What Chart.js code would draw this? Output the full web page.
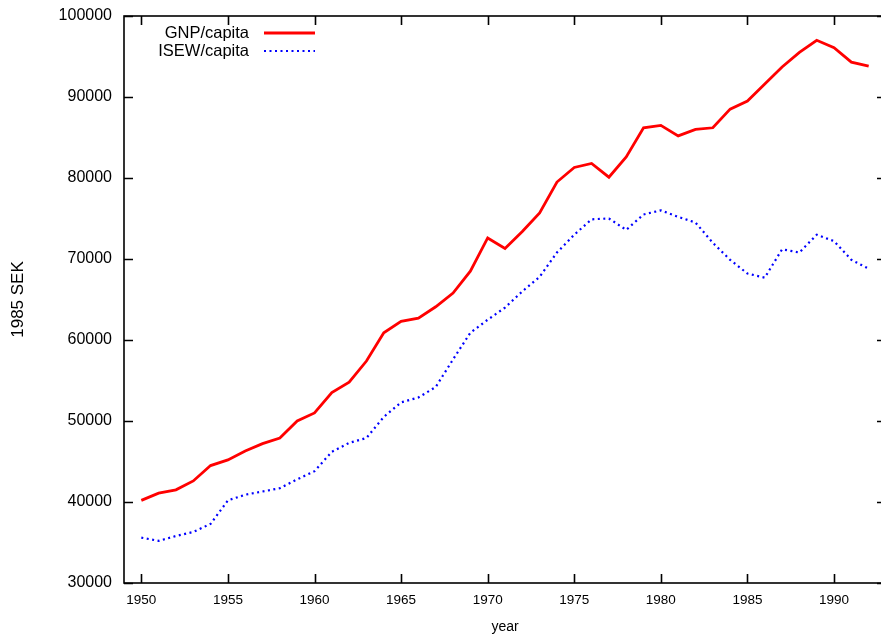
<!DOCTYPE html>
<html>
<head>
<meta charset="utf-8">
<script src="https://cdn.jsdelivr.net/npm/chart.js@4"></script>
<style>
  html, body { margin: 0; padding: 0; background: #fff; overflow: hidden; }
  #wrap { width: 890px; height: 642px; }
</style>
</head>
<body>
<div id="wrap"><canvas id="chart" width="890" height="642"></canvas></div>
<script>
const years = [1950, 1951, 1952, 1953, 1954, 1955, 1956, 1957, 1958, 1959,
  1960, 1961, 1962, 1963, 1964, 1965, 1966, 1967, 1968, 1969,
  1970, 1971, 1972, 1973, 1974, 1975, 1976, 1977, 1978, 1979,
  1980, 1981, 1982, 1983, 1984, 1985, 1986, 1987, 1988, 1989,
  1990, 1991, 1992]

const gnpPerCapita = [40200, 41100, 41500, 42600, 44500, 45200, 46300, 47200, 47900, 50000,
  51000, 53500, 54800, 57400, 60900, 62300, 62700, 64100, 65800, 68500,
  72600, 71300, 73400, 75700, 79500, 81300, 81800, 80100, 82600, 86200,
  86500, 85200, 86000, 86200, 88500, 89500, 91600, 93700, 95500, 97000,
  96100, 94300, 93800]

const isewPerCapita = [35600, 35200, 35800, 36300, 37300, 40200, 40900, 41300, 41700, 42800,
  43800, 46200, 47300, 47900, 50500, 52300, 52900, 54200, 57600, 60900,
  62500, 64000, 66000, 67800, 70800, 73000, 74900, 75000, 73600, 75500,
  76000, 75200, 74500, 72000, 69900, 68200, 67700, 71200, 70800, 73000,
  72200, 69900, 68800]

const xTicks = [1950, 1955, 1960, 1965, 1970, 1975, 1980, 1985, 1990]
const yTicks = [30000, 40000, 50000, 60000, 70000, 80000, 90000, 100000]

const toPoints = values => years.map((year, i) => ({ x: year, y: values[i] }))

// gnuplot-like frame with inward ticks on all four sides
const framePlugin = {
  id: 'frame',
  afterDraw (chart) {
    const { ctx, chartArea: a, scales } = chart
    const len = 9
    ctx.save()
    ctx.strokeStyle = '#000'
    ctx.lineWidth = 1.6
    ctx.strokeRect(a.left, a.top, a.right - a.left, a.bottom - a.top)
    ctx.beginPath()
    scales.x.ticks.forEach(t => {
      const px = Math.round(scales.x.getPixelForValue(t.value)) + 0.5
      ctx.moveTo(px, a.bottom); ctx.lineTo(px, a.bottom - len)
      ctx.moveTo(px, a.top); ctx.lineTo(px, a.top + len)
    })
    scales.y.ticks.forEach(t => {
      const py = Math.round(scales.y.getPixelForValue(t.value)) + 0.5
      ctx.moveTo(a.left, py); ctx.lineTo(a.left + len, py)
      ctx.moveTo(a.right, py); ctx.lineTo(a.right - len, py)
    })
    ctx.stroke()
    ctx.restore()
  }
}

// key in the top left corner: text right aligned, sample line to its right
const keyPlugin = {
  id: 'key',
  afterDatasetsDraw (chart) {
    const { ctx, chartArea: a } = chart
    ctx.save()
    ctx.font = '16.5px "Liberation Sans", Arial, sans-serif'
    ctx.textAlign = 'right'
    ctx.textBaseline = 'middle'
    chart.data.datasets.forEach((ds, i) => {
      const y = a.top + 17 + i * 18
      ctx.fillStyle = '#000'
      ctx.fillText(ds.label, a.left + 125, y)
      ctx.strokeStyle = ds.borderColor
      ctx.lineWidth = ds.borderWidth
      ctx.setLineDash(ds.borderDash || [])
      ctx.beginPath()
      ctx.moveTo(a.left + 140, y)
      ctx.lineTo(a.left + 191, y)
      ctx.stroke()
    })
    ctx.restore()
  }
}

const tickFont = { family: '"Liberation Sans", Arial, sans-serif' }

new Chart(document.getElementById('chart').getContext('2d'), {
  type: 'line',
  data: {
    datasets: [{
      label: 'GNP/capita',
      data: toPoints(gnpPerCapita),
      borderColor: '#ff0000',
      borderWidth: 2.8,
      pointRadius: 0,
      tension: 0
    }, {
      label: 'ISEW/capita',
      data: toPoints(isewPerCapita),
      borderColor: '#0000ff',
      borderWidth: 2.2,
      borderDash: [2, 3.5],
      pointRadius: 0,
      tension: 0
    }]
  },
  plugins: [framePlugin, keyPlugin],
  options: {
    responsive: false,
    animation: false,
    layout: { padding: { top: 16, right: 4, left: 0, bottom: 0 } },
    plugins: {
      legend: { display: false },
      tooltip: { enabled: false }
    },
    scales: {
      x: {
        type: 'linear',
        min: 1949,
        max: 1993,
        afterBuildTicks: s => { s.ticks = xTicks.map(v => ({ value: v })) },
        afterFit: s => { s.height = 59; s.paddingLeft = 0; s.paddingRight = 0 },
        grid: { display: false, drawTicks: false },
        border: { display: false },
        ticks: {
          padding: 9,
          color: '#000',
          autoSkip: false,
          maxRotation: 0,
          font: { ...tickFont, size: 13.5 },
          callback: v => String(v)
        },
        title: {
          display: true,
          text: 'year',
          color: '#000',
          font: { ...tickFont, size: 14 },
          padding: { top: 0, bottom: 6 }
        }
      },
      y: {
        min: 30000,
        max: 100000,
        afterBuildTicks: s => { s.ticks = yTicks.map(v => ({ value: v })) },
        afterFit: s => { s.width = 124; s.paddingTop = 0; s.paddingBottom = 0 },
        grid: { display: false, drawTicks: false },
        border: { display: false },
        ticks: {
          padding: 12,
          color: '#000',
          autoSkip: false,
          font: { ...tickFont, size: 16 },
          callback: v => String(v)
        },
        title: {
          display: true,
          text: '1985 SEK',
          color: '#000',
          font: { ...tickFont, size: 17 },
          padding: { top: 8, bottom: 0 }
        }
      }
    }
  }
})
</script>
</body>
</html>
